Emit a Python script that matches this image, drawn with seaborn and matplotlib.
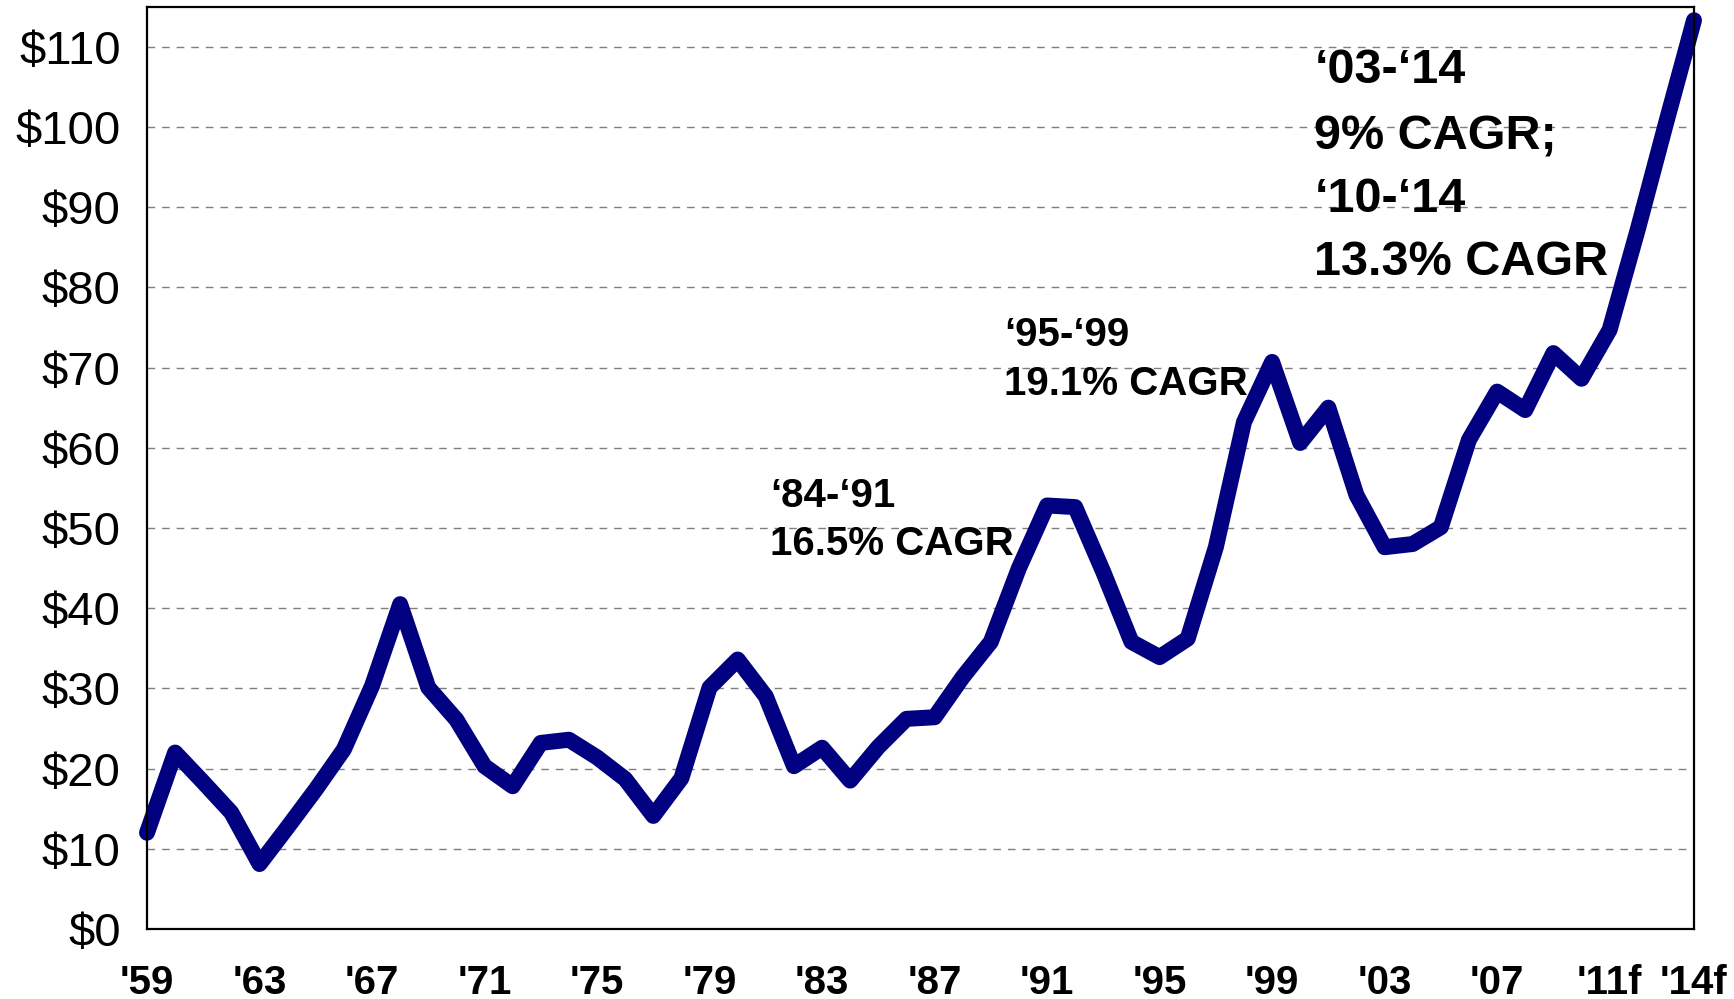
import matplotlib
matplotlib.use("Agg")
import matplotlib.pyplot as plt
import seaborn as sns
import pandas as pd

years = [1959, 1960, 1961, 1962, 1963, 1964, 1965, 1966, 1967, 1968,
         1969, 1970, 1971, 1972, 1973, 1974, 1975, 1976, 1977, 1978,
         1979, 1980, 1981, 1982, 1983, 1984, 1985, 1986, 1987, 1988,
         1989, 1990, 1991, 1992, 1993, 1994, 1995, 1996, 1997, 1998,
         1999, 2000, 2001, 2002, 2003, 2004, 2005, 2006, 2007, 2008,
         2009, 2010, 2011, 2012, 2013, 2014]
values = [12.0, 22.0, 18.3, 14.5, 8.1, 12.7, 17.4, 22.4, 30.3, 40.5,
          30.1, 26.1, 20.3, 17.8, 23.2, 23.6, 21.4, 18.7, 14.1, 18.8,
          30.1, 33.6, 29.0, 20.3, 22.6, 18.5, 22.7, 26.2, 26.4, 31.4,
          35.8, 45.0, 52.8, 52.6, 44.5, 35.8, 33.9, 36.2, 47.6, 63.2,
          70.7, 60.6, 65.0, 54.1, 47.6, 48.0, 50.1, 61.0, 67.0, 64.7,
          71.8, 68.6, 74.7, 87.2, 100.4, 113.3]

x_ticks = [1959, 1963, 1967, 1971, 1975, 1979, 1983, 1987, 1991, 1995, 1999, 2003, 2007, 2011, 2014]
x_labels = ["'59", "'63", "'67", "'71", "'75", "'79", "'83", "'87", "'91", "'95", "'99", "'03", "'07", "'11f", "'14f"]
y_ticks = [0, 10, 20, 30, 40, 50, 60, 70, 80, 90, 100, 110]
y_labels = ["$0", "$10", "$20", "$30", "$40", "$50", "$60", "$70", "$80", "$90", "$100", "$110"]

notes = [
    ("\u201884-\u201891", 1981.15, 54.0, 29),
    ("16.5% CAGR", 1981.15, 48.0, 29),
    ("\u201895-\u201899", 1989.47, 74.0, 29),
    ("19.1% CAGR", 1989.47, 67.9, 29),
    ("\u201803-\u201814", 2000.5, 107.0, 35),
    ("9% CAGR;", 2000.5, 98.8, 35),
    ("\u201810-\u201814", 2000.5, 91.0, 35),
    ("13.3% CAGR", 2000.5, 83.1, 35),
]

sns.set_theme(style="white")
plt.rcParams['font.family'] = ['Liberation Sans', 'DejaVu Sans']

df = pd.DataFrame({"year": years, "value": values})

fig = plt.figure(figsize=(17.34, 9.99), dpi=100)
ax = fig.add_axes([147 / 1734, 1 - 929 / 999, (1694 - 147) / 1734, (929 - 6.6) / 999])

for yv in y_ticks[1:]:
    ax.axhline(yv, color="#7f7f7f", linewidth=1.0, linestyle=(0, (5.5, 5)), zorder=1)

sns.lineplot(data=df, x="year", y="value", ax=ax, color="#000080", linewidth=11.5,
             solid_joinstyle="round", solid_capstyle="round", zorder=3, clip_on=False)

ax.set_xlim(1959, 2014)
ax.set_ylim(0, 115)
ax.set_xlabel("")
ax.set_ylabel("")
ax.set_xticks(x_ticks)
ax.set_xticklabels(x_labels, fontsize=29, fontweight="bold")
ax.set_yticks(y_ticks)
ax.set_yticklabels(y_labels, fontsize=34)
ax.tick_params(axis="x", length=0, pad=25, colors="black")
ax.tick_params(axis="y", length=0, pad=19, colors="black")
ax.grid(False)
for s in ax.spines.values():
    s.set_visible(True)
    s.set_color("black")
    s.set_linewidth(1.6)
    s.set_zorder(4)

for txt, xx, yy, fs in notes:
    ax.text(xx, yy, txt, fontsize=fs, fontweight="bold", ha="left", va="center",
            color="black", zorder=5)

fig.savefig("out.png", dpi=100, facecolor="white")
